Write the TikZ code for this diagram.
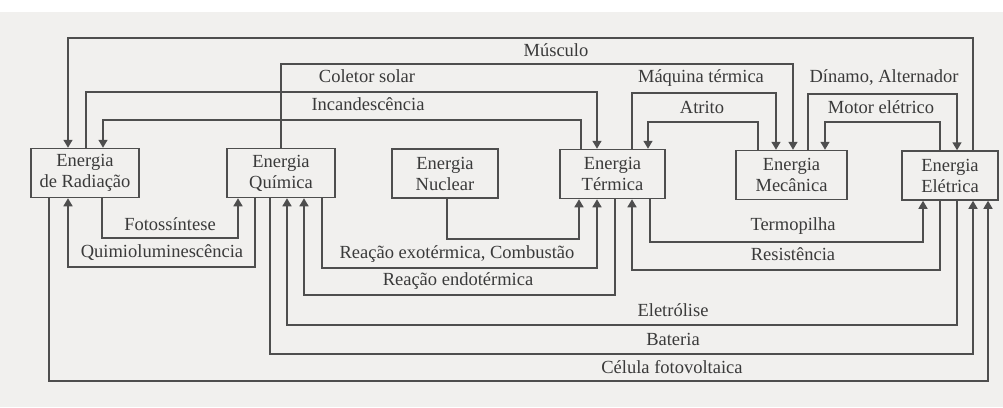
\documentclass[tikz,border=0pt]{standalone}
\usepackage{fontspec}
\setmainfont{Liberation Serif}
\usetikzlibrary{arrows.meta,calc}
\definecolor{paper}{HTML}{F1F0EE}
\definecolor{ink}{HTML}{3A3A3A}
\definecolor{wire}{HTML}{4E4E4E}
\begin{document}
\begin{tikzpicture}[x=1pt,y=-1pt,
  energybox/.style={draw=wire, line width=1.5pt, fill=paper, inner sep=0pt,
    minimum height=49pt, align=center, text=ink,
    font=\fontsize{18.5}{21}\selectfont},
  flow/.style={draw=wire, line width=1.5pt, line join=miter,
    -{Triangle[width=9pt,length=8pt]}},
  tag/.style={font=\fontsize{18.5}{21}\selectfont, text=ink, inner sep=0pt,
    text height=1.4ex, text depth=0.3ex}
]
% sheet
\fill[paper] (0,0) rectangle (1003,407);
\fill[white] (0,0) rectangle (1003,12);
\useasboundingbox (0,0) rectangle (1003,407);

% forms of energy
\node[energybox, minimum width=108pt] (rad)  at (85,173)    {Energia\\de Radiação};
\node[energybox, minimum width=108pt] (quim) at (281,173)   {Energia\\Química};
\node[energybox, minimum width=106pt] (nuc)  at (445,173.5) {Energia\\Nuclear};
\node[energybox, minimum width=105pt] (term) at (612.5,174) {Energia\\Térmica};
\node[energybox, minimum width=111pt] (mec)  at (791.5,175) {Energia\\Mecânica};
\node[energybox, minimum width=96pt]  (ele)  at (950,175.5) {Energia\\Elétrica};

% conversions above the boxes
\draw[flow] (ele.north -| 973,0)  -- (973,38)  -| (rad.north -| 68,0);
\draw[flow] (quim.north -| 281,0) -- (281,64)  -| (mec.north -| 793,0);
\draw[flow] (rad.north -| 86,0)   -- (86,92)   -| (term.north -| 597,0);
\draw[flow] (term.north -| 632,0) -- (632,93)  -| (mec.north -| 776,0);
\draw[flow] (mec.north -| 808,0)  -- (808,94)  -| (ele.north -| 957,0);
\draw[flow] (term.north -| 581,0) -- (581,120) -| (rad.north -| 103,0);
\draw[flow] (mec.north -| 758,0)  -- (758,122) -| (term.north -| 648,0);
\draw[flow] (ele.north -| 940,0)  -- (940,122) -| (mec.north -| 825,0);

% conversions below the boxes
\draw[flow] (rad.south -| 102,0)  -- (102,238) -| (quim.south -| 238,0);
\draw[flow] (quim.south -| 255,0) -- (255,267) -| (rad.south -| 68,0);
\draw[flow] (quim.south -| 322,0) -- (322,268) -| (term.south -| 597,0);
\draw[flow] (nuc.south -| 447,0)  -- (447,239) -| (term.south -| 579,0);
\draw[flow] (term.south -| 615,0) -- (615,295) -| (quim.south -| 304,0);
\draw[flow] (term.south -| 650,0) -- (650,242) -| (ele.south -| 923,0);
\draw[flow] (ele.south -| 940,0)  -- (940,270) -| (term.south -| 632,0);
\draw[flow] (ele.south -| 957,0)  -- (957,325) -| (quim.south -| 287,0);
\draw[flow] (quim.south -| 270,0) -- (270,354) -| (ele.south -| 973,0);
\draw[flow] (rad.south -| 49,0)   -- (49,381)  -| (ele.south -| 988,0);

% labels of the conversions
\node[tag] (lmus) at (556,54)  {Músculo};
\node[tag] (lcol) at (367,80)  {Coletor solar};
\node[tag] (linc) at (368,108) {Incandescência};
\node[tag] (lmaq) at (701,80)  {Máquina térmica};
\node[tag] (latr) at (702,111) {Atrito};
\node[tag] (ldin) at (884,80)  {Dínamo, Alternador};
\node[tag] (lmot) at (881,111) {Motor elétrico};
\node[tag] (lfot) at (170,228) {Fotossíntese};
\node[tag] (lqui) at (162,255) {Quimioluminescência};
\node[tag] (lexo) at (457,256) {Reação exotérmica, Combustão};
\node[tag] (lend) at (458,283) {Reação endotérmica};
\node[tag] (lter) at (793,228) {Termopilha};
\node[tag] (lres) at (793,258) {Resistência};
\node[tag] (lelt) at (673,314) {Eletrólise};
\node[tag] (lbat) at (673,343) {Bateria};
\node[tag] (lcel) at (672,371) {Célula fotovoltaica};
\end{tikzpicture}
\end{document}
